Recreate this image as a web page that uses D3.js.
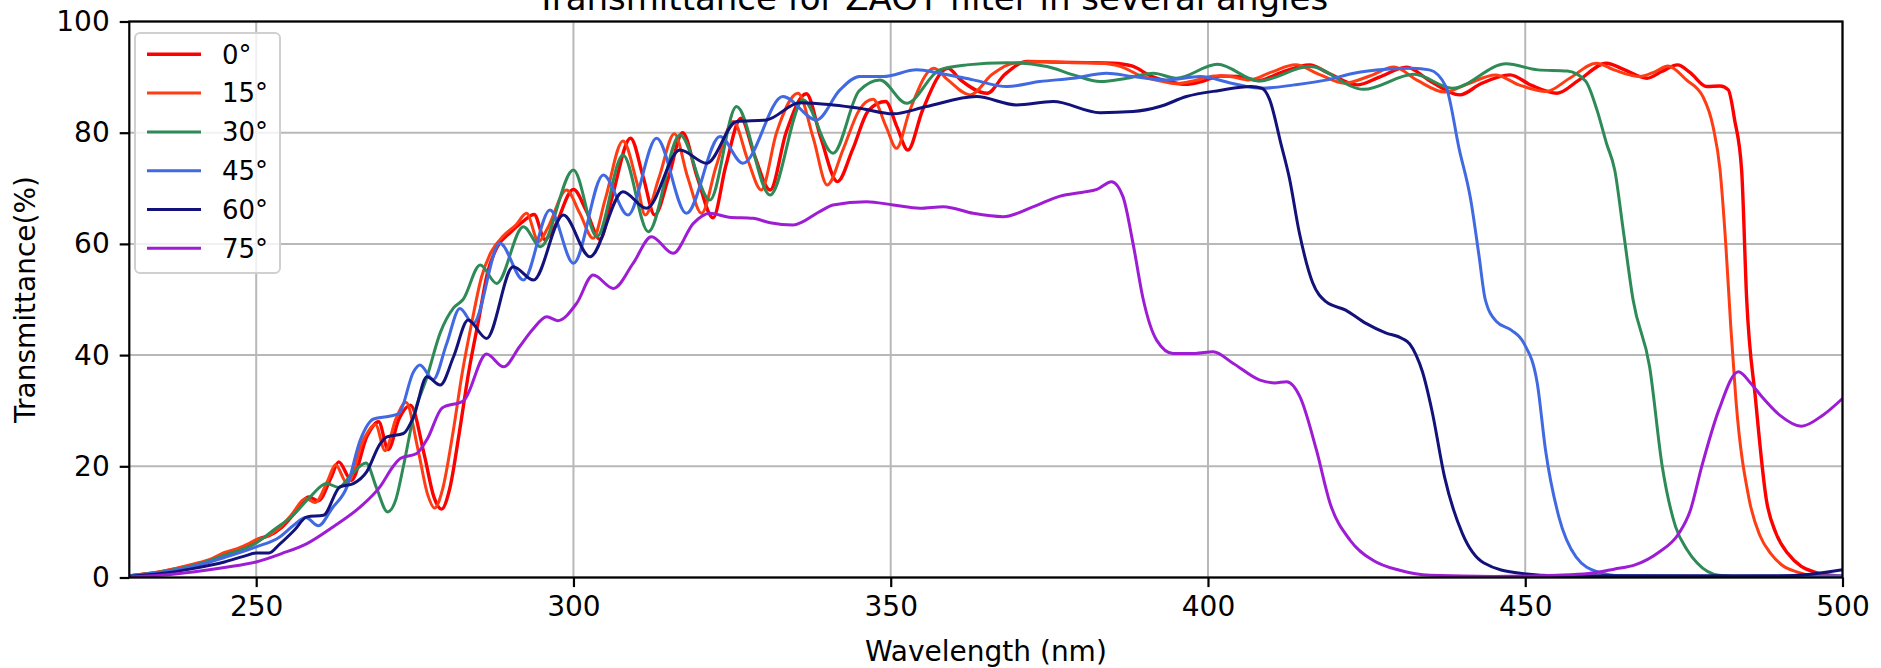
<!DOCTYPE html>
<html>
<head>
<meta charset="utf-8">
<script src="https://cdn.jsdelivr.net/npm/d3@7"></script>
<style>
  body { margin: 0; background: #fff; }
  svg text { font-family: "DejaVu Sans", sans-serif; fill: #000; }
</style>
</head>
<body>
<div id="chart"></div>
<script>
// angles, ticks and the measured curves ([wavelength nm, transmittance %])
var angleLabels = ["0°", "15°", "30°", "45°", "60°", "75°"];
var angleColors = ["#ff0000", "#ff3d14", "#2e8b57", "#4169e1", "#12127a", "#9e1dd4"];
var xTicks = [250, 300, 350, 400, 450, 500];
var yTicks = [0, 20, 40, 60, 80, 100];

var deg0 = [[230,0.3],[235,1.0],[240,2.2],[243,3.0],[245,4.2],[247,4.8],[249,6.0],[250.5,7.0],[252,7.5],[254,9.0],[256,11.5],[258.3,14.5],[259.8,13.8],[261.8,18.0],[263,20.8],[265,17.5],[267.5,25.5],[269.3,28.0],[270.8,23.0],[272.5,28.5],[274.3,31.0],[276.5,22],[278,14.5],[279.2,12.3],[280.5,16],[282,26],[283.5,37],[285,46],[286.5,55],[288,59.5],[290,62],[292,64],[293.8,65.3],[295.5,60.8],[297,63],[300,69.8],[302,66],[304.2,60.8],[306,68],[309,79],[311,72],[312.8,65.2],[315,72],[317.2,80],[319.5,72],[322,64.7],[324,74],[326.4,82.6],[328.5,76],[331,69.7],[333.5,80],[336.7,87],[339,79],[341.6,71.2],[344,77],[346.5,84],[349.2,85.6],[351,81],[352.7,76.9],[355,84],[359,91.6],[361,89.5],[365.2,87.1],[368,90.5],[371.5,92.8],[376,92.7],[381,92.6],[385,92.5],[388,92.0],[391,90.2],[393.8,89.2],[396.5,88.7],[399,89.2],[402,90.2],[404.5,90.1],[408,89.4],[411.5,90.8],[416,92.2],[419,90.7],[423.5,88.6],[427,90],[431.3,91.8],[435,89.3],[439.7,86.8],[443,88.8],[447.6,90.4],[451,88.5],[455,87.1],[458.5,89.5],[462.8,92.5],[465.5,91.4],[469.2,89.8],[471.5,91],[474,92.2],[476,90.8],[478.6,88.3],[480.7,88.4],[482,87.7],[483,82.3],[484.1,73.3],[484.9,50],[486.3,32],[488,14],[489.5,8],[491.4,4.3],[493.5,2.0],[495.5,1.0],[498,0.4],[500,0.2]];

var deg15 = [[230,0.3],[235,1.1],[240,2.4],[243,3.4],[245,4.5],[247,5.2],[249,6.2],[250,6.8],[251.5,7.3],[253.5,8.8],[255.5,11.2],[257.8,14.2],[259.3,13.5],[261.3,17.5],[262.5,20.3],[264.3,17],[267,25],[268.8,27.5],[270.3,22.8],[272,28.5],[273.6,31.5],[275.5,23],[277,15],[278.1,12.5],[279.4,16],[281,26],[282.5,37],[284,46],[285.5,54],[287,58.5],[289,61.5],[291,63.5],[292.6,65.5],[294.5,60.4],[296,63],[298.9,69.7],[301,65.5],[303.1,61],[305,68],[307.8,78.5],[310,71],[311.3,65.2],[313.5,72],[315.9,79.8],[318,72],[320.2,65.5],[322.5,74],[325.2,82],[327.5,75],[329.6,69.7],[332,80],[335.4,87.1],[337.8,79],[340,70.6],[342.5,77],[345,84],[347.2,86],[349.3,81],[350.9,77.2],[353,84],[356.8,91.6],[359,89.5],[362.5,86.8],[366,90.5],[369.3,92.5],[374,92.8],[379,92.6],[383,92.5],[386,92.0],[389.5,90.2],[392.5,89.3],[395,88.8],[398,89.4],[401,90.2],[403.5,90.1],[406.5,89.5],[410,90.9],[413.8,92.2],[417.5,90.5],[421.5,88.9],[425.5,90.2],[429.3,91.8],[433,89.4],[437.3,87.3],[441,88.8],[445.3,90.4],[449,88.6],[453.3,87.4],[457,89.8],[461.2,92.5],[464,91.3],[468,90.1],[470.5,91],[472.5,92],[475.4,89.5],[478,86.5],[479.6,81.1],[480.7,73.3],[481.6,60],[482.4,45],[483.2,32],[485.3,14],[487,7.5],[488.7,4.3],[490.5,2.2],[492.8,1.0],[495,0.4],[500,0.1]];

var deg30 = [[230,0.3],[235,1.0],[240,2.1],[245,4.0],[250,6.2],[252.7,8.5],[255.8,11.2],[258.5,14.5],[261.1,16.9],[263,16.2],[265,18.5],[267.3,20.6],[269,16],[270.7,11.8],[272,14],[273.2,20],[274.8,29],[276.9,36],[279,44],[281.1,48.5],[282.6,50],[285.3,56.2],[287.9,52.9],[292.1,63.1],[294.8,59.5],[300,73.3],[303.7,61.3],[307.8,76],[311.8,62.2],[316.8,79.6],[321.5,67.9],[325.7,84.7],[331,68.8],[336.2,85.9],[340.9,76.3],[345,87.5],[348.3,89.5],[352.5,85.3],[357.7,91.3],[362,92.2],[368.3,92.6],[374.6,91.9],[378.8,90.4],[383,89.2],[387.2,89.8],[391.4,90.7],[395,89.8],[401.5,92.3],[408,89.3],[416,91.9],[424.5,87.8],[432.5,90.5],[438.5,88.0],[447,92.4],[452,91.3],[456.6,91.1],[459.5,89.3],[461.3,84.1],[462.8,78.1],[464.1,73.3],[465.5,62],[467,49.9],[469.6,37.9],[471.6,19.9],[473.7,9.1],[475.5,5],[477.1,2.6],[480.5,0.4],[485,0.1],[500,0.05]];

var deg45 = [[230,0.3],[235,0.9],[240,2.0],[245,3.6],[250,5.5],[253.7,7.3],[256,9.5],[257.8,10.8],[259.8,9.3],[262,12.5],[264.3,16.3],[266.4,24.7],[268.5,28.5],[271,29],[272.5,29.5],[274.8,37],[275.8,38.2],[277.9,35.6],[280,42],[282.1,48.4],[284.2,45.7],[288.4,60.1],[292.1,53.5],[296.3,66.1],[300,56.5],[304.7,72.4],[308.6,65.2],[313.1,79],[317.8,65.5],[323.1,79.3],[326.7,74.5],[333,86.5],[338.3,82.3],[342,87.7],[345.1,90.1],[348.8,90.1],[354.1,91.3],[357.7,90.7],[363,89.5],[368.3,88.3],[373.5,89.2],[378.8,89.8],[384,90.7],[388.2,90.1],[393.5,89.5],[398.8,90.1],[403.7,88.9],[408.4,88.0],[413.6,88.6],[418.8,89.5],[423,90.7],[428,91.4],[432.2,91.6],[434.9,91.3],[437.5,88.3],[439.6,77],[441.4,68],[442.7,58],[443.7,50],[445.5,46],[447.8,44.5],[449.8,42.1],[451.9,34.9],[453.2,22.9],[455.3,10.9],[458,3.7],[461.4,1],[465,0.3],[480,0.2],[500,0.3]];

var deg60 = [[230,0.2],[235,0.7],[240,1.6],[245,2.8],[248,3.8],[250,4.4],[252,4.4],[253.7,6],[256,8.5],[258,10.9],[260.6,11.2],[263.2,16.3],[265.3,16.9],[267.4,19],[269.5,24],[270.6,25.3],[273.2,25.9],[274.8,28.9],[276.9,36.1],[279,34.6],[281.1,39.7],[283.4,46.3],[286.3,43],[290.5,55.9],[293.7,53.5],[298.4,65.2],[302.6,57.7],[307.8,69.4],[311.5,66.4],[316.8,76.9],[321,74.5],[325.7,82],[330.4,82.3],[335.7,85.4],[340.9,85],[345.1,84.4],[350.4,83.4],[355.6,84.7],[363.5,86.5],[369.8,85],[375.6,85.6],[383,83.6],[388.2,83.8],[392.4,84.7],[396.6,86.5],[401.8,87.6],[406.8,88.3],[408.5,88],[409.7,86],[411.5,78],[412.8,72],[414.4,62],[416.5,53],[418.6,49.6],[421.7,48.1],[424.9,45.7],[428,44],[430.6,43],[431.8,42],[432.8,40],[433.8,37],[435.3,30],[437.3,18],[440.1,7.9],[443.5,2.6],[448.9,0.8],[455,0.3],[490,0.3],[495,0.6],[500,1.4]];

var deg75 = [[230,0.1],[235,0.4],[240,1.0],[245,1.8],[250,2.8],[254,4.3],[258,6.1],[262.1,9.1],[266.4,12.7],[269.5,16.3],[271.6,20],[272.7,21.4],[275.3,22.3],[277,25],[279.3,30.5],[282.7,31.8],[286.3,40.2],[289,37.9],[291.5,41.5],[293.5,44.5],[295.8,46.9],[297.5,46.2],[300.5,49.3],[303.1,54.4],[306.3,52],[309.4,56.5],[312.3,61.3],[315.7,58.3],[318.9,63.7],[321.5,65.5],[324.5,64.8],[328.3,64.6],[331,63.8],[334.6,63.4],[338.8,65.8],[340.9,67],[346.2,67.6],[350.4,67],[354.6,66.4],[358.3,66.7],[363,65.5],[367.7,64.9],[372.5,66.7],[376.7,68.6],[380.3,69.3],[382.5,69.8],[384.8,71.2],[386.6,68.5],[388.2,60],[389.8,50],[391.9,42.7],[394.5,40.3],[398,40.3],[400.8,40.6],[404,38.5],[408.2,35.5],[410.5,35],[412.4,35.2],[414.5,32.5],[417.1,22.9],[419.2,13.5],[422.4,6.7],[426,3.1],[430.2,1.3],[435,0.4],[445,0.2],[455,0.4],[460,0.7],[464,1.5],[467.4,2.3],[471,4.5],[474.2,7.9],[476,12],[477.8,19.9],[480.5,30.1],[483.6,37],[485.5,35],[487.3,32.5],[490.1,29.2],[493.5,27.2],[496.9,29.2],[500,32.2]];

var seriesList = [deg0, deg15, deg30, deg45, deg60, deg75];

var W = 1881, H = 668;
var margin = {left: 129.3, right: 38.5, top: 21.5, bottom: 90.5};

var svg = d3.select("#chart").append("svg")
    .attr("width", W)
    .attr("height", H)
    .style("background", "#fff");

var x = d3.scaleLinear().domain([230, 500]).range([margin.left, W - margin.right]);
var y = d3.scaleLinear().domain([0, 100]).range([H - margin.bottom, margin.top]);

// grid
var grid = svg.append("g").attr("stroke", "#b8b8b8").attr("stroke-width", 2);
grid.selectAll(".gx").data(xTicks).enter().append("line")
    .attr("x1", function(d){ return x(d); }).attr("x2", function(d){ return x(d); })
    .attr("y1", y(0)).attr("y2", y(100));
grid.selectAll(".gy").data(yTicks).enter().append("line")
    .attr("y1", function(d){ return y(d); }).attr("y2", function(d){ return y(d); })
    .attr("x1", x(230)).attr("x2", x(500));

// clip for the curves
svg.append("clipPath").attr("id", "plotclip").append("rect")
    .attr("x", x(230)).attr("y", y(100))
    .attr("width", x(500) - x(230)).attr("height", y(0) - y(100));

var line = d3.line()
    .x(function(d){ return x(d[0]); })
    .y(function(d){ return y(d[1]); })
    .curve(d3.curveMonotoneX);

svg.append("g").attr("clip-path", "url(#plotclip)")
    .selectAll("path").data(seriesList).enter().append("path")
    .attr("d", line)
    .attr("fill", "none")
    .attr("stroke", function(d, i){ return angleColors[i]; })
    .attr("stroke-width", function(d, i){ return i == 0 ? 3.4 : 3; })
    .attr("stroke-linejoin", "round");

// spines
svg.append("rect")
    .attr("x", x(230)).attr("y", y(100))
    .attr("width", x(500) - x(230)).attr("height", y(0) - y(100))
    .attr("fill", "none").attr("stroke", "#000").attr("stroke-width", 2.2);

// axes
var xAxis = svg.append("g")
    .attr("transform", "translate(0," + y(0) + ")")
    .call(d3.axisBottom(x).tickValues(xTicks).tickSize(9.6).tickPadding(9.5).tickFormat(d3.format("d")));
var yAxis = svg.append("g")
    .attr("transform", "translate(" + x(230) + ",0)")
    .call(d3.axisLeft(y).tickValues(yTicks).tickSize(9.6).tickPadding(10).tickFormat(d3.format("d")));

[xAxis, yAxis].forEach(function(ax){
    ax.select(".domain").remove();
    ax.attr("font-family", "DejaVu Sans").attr("font-size", 28);
    ax.selectAll(".tick line").attr("stroke", "#000").attr("stroke-width", 2.2);
    ax.selectAll(".tick text").attr("fill", "#000");
});

// labels and title (title is cut at the top edge, as in the source picture)
svg.append("text")
    .attr("x", (x(230) + x(500)) / 2).attr("y", 661)
    .attr("text-anchor", "middle").style("font-size", "28px")
    .text("Wavelength (nm)");

svg.append("text")
    .attr("transform", "translate(35," + ((y(0) + y(100)) / 2) + ") rotate(-90)")
    .attr("text-anchor", "middle").style("font-size", "28px")
    .text("Transmittance(%)");

svg.append("text")
    .attr("x", 932).attr("y", 10)
    .attr("text-anchor", "middle").style("font-size", "34px")
    .text("Transmittance for ZAOT filter in several angles");

// legend
var legend = svg.append("g");
legend.append("rect")
    .attr("x", 135).attr("y", 33).attr("width", 145).attr("height", 240)
    .attr("rx", 5).attr("fill", "#fff").attr("fill-opacity", 0.8)
    .attr("stroke", "#d0d0d0").attr("stroke-width", 2);

var rows = legend.selectAll(".row").data(angleLabels).enter().append("g")
    .attr("transform", function(d, i){ return "translate(0," + (54.3 + i * 38.8) + ")"; });
rows.append("line")
    .attr("x1", 147).attr("x2", 201)
    .attr("stroke", function(d, i){ return angleColors[i]; })
    .attr("stroke-width", function(d, i){ return i == 0 ? 3.4 : 3; });
rows.append("text")
    .attr("x", 222).attr("dy", "0.36em")
    .style("font-size", "26px")
    .text(function(d){ return d; });
</script>
</body>
</html>
